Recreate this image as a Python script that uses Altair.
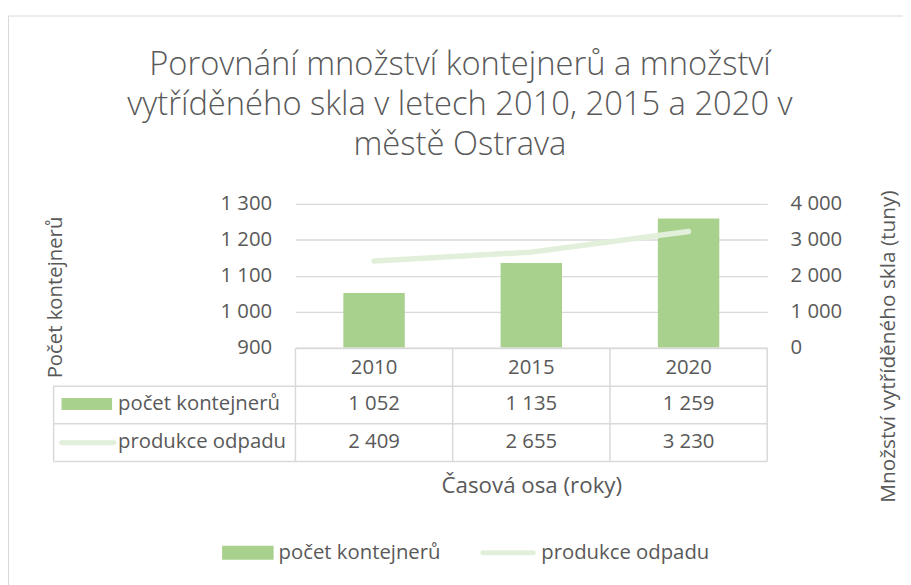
import altair as alt
import pandas as pd

# ---- data ----
roky = ["2010", "2015", "2020"]
pocet_kontejneru = [1052, 1135, 1259]
produkce_odpadu = [2409, 2655, 3230]
serie = ["počet kontejnerů", "produkce odpadu"]
osa_leva = [900, 1000, 1100, 1200, 1300]
osa_prava = [0, 1000, 2000, 3000, 4000]
nazev = [
    "Porovnání množství kontejnerů a množství",
    "vytříděného skla v letech 2010, 2015 a 2020 v",
    "městě Ostrava",
]
titulek_x = "Časová osa (roky)"
titulek_y_levy = "Počet kontejnerů"
titulek_y_pravy = "Množství vytříděného skla (tuny)"


def cz(v):
    return f"{v:,}".replace(",", " ")


df = pd.DataFrame({
    "rok": roky,
    "kont": pocet_kontejneru,
    "odpad": produkce_odpadu,
    "kont_t": [cz(v) for v in pocet_kontejneru],
    "odpad_t": [cz(v) for v in produkce_odpadu],
})
one = pd.DataFrame({"k": [0]})

FONT = "Open Sans"
GRAY = "#595959"
GRID = "#D9D9D9"
BAR = "#A9D18E"
LINEC = "#E2EFDA"
FS = 20.5

xscale = alt.Scale(paddingInner=0, paddingOuter=0)
xaxis = alt.Axis(labels=False, ticks=False, domain=False, grid=False,
                 title=titulek_x, titleFontSize=22.5, titleFontWeight="normal",
                 titleColor=GRAY, titleFont=FONT, titleY=139, titleBaseline="middle")


def X(**kw):
    return alt.X("rok:O", scale=xscale, axis=xaxis, **kw)


num_expr = "replace(format(datum.value, ','), ',', ' ')"

base = alt.Chart(df)

border = alt.Chart(one).mark_rect(filled=False, stroke=GRID, strokeWidth=1).encode(
    x=alt.value(-289.5), x2=alt.value(700), y=alt.value(-189.5), y2=alt.value(420))

bars = base.mark_bar(size=62, color=BAR).encode(
    x=X(),
    y=alt.Y("kont:Q", scale=alt.Scale(domain=[900, 1300], zero=False, nice=False),
            axis=alt.Axis(values=osa_leva, labelExpr=num_expr, ticks=False, tickSize=0,
                          domain=False, grid=True, gridColor=GRID, gridWidth=1.3,
                          labelPadding=24, title=titulek_y_levy, titleFontSize=FS,
                          titleFontWeight="normal", titleColor=GRAY, titleFont=FONT,
                          titleAngle=270, titleX=-242, titleY=94,
                          titleAlign="center", titleBaseline="middle")),
    y2=alt.datum(900),
)

line = base.mark_line(color=LINEC, strokeWidth=5.5, strokeCap="round").encode(
    x=X(),
    y=alt.Y("odpad:Q", scale=alt.Scale(domain=[0, 4000], nice=False),
            axis=alt.Axis(orient="right", values=osa_prava, labelExpr=num_expr,
                          ticks=False, tickSize=0, domain=False, grid=False,
                          labelPadding=23, title=titulek_y_pravy, titleFontSize=21,
                          titleFontWeight="normal", titleColor=GRAY, titleFont=FONT,
                          titleAngle=270, titleX=122, titleY=143.5,
                          titleAlign="center", titleBaseline="middle")),
)

# ---- data table ----
txt = dict(font=FONT, fontSize=FS, color=GRAY, baseline="middle")
hdr = base.mark_text(**txt).encode(x=X(), y=alt.value(166), text="rok:N")
row1 = base.mark_text(**txt).encode(x=X(), y=alt.value(202), text="kont_t:N")
row2 = base.mark_text(**txt).encode(x=X(), y=alt.value(240), text="odpad_t:N")

rule_kw = dict(color=GRID, strokeWidth=1.5)
vlines = base.mark_rule(**rule_kw).encode(x=X(bandPosition=0), y=alt.value(146), y2=alt.value(260))
vline_end = base.transform_filter(alt.datum.rok == roky[-1]).mark_rule(**rule_kw).encode(
    x=X(bandPosition=1), y=alt.value(146), y2=alt.value(260))


def hrule(x1, y):
    return alt.Chart(one).mark_rule(**rule_kw).encode(
        x=alt.value(x1), x2=alt.value(476), y=alt.value(y))


hr = [hrule(0, 146), hrule(-244, 184), hrule(-244, 222), hrule(-244, 260)]
vleft = alt.Chart(one).mark_rule(**rule_kw).encode(x=alt.value(-244), y=alt.value(184), y2=alt.value(260))


def label(t, x, y):
    return alt.Chart(pd.DataFrame({"t": [t]})).mark_text(align="left", **txt).encode(
        text="t:N", x=alt.value(x), y=alt.value(y))


def swatch_bar(x1, x2, y1, y2):
    return alt.Chart(one).mark_rect(color=BAR).encode(
        x=alt.value(x1), x2=alt.value(x2), y=alt.value(y1), y2=alt.value(y2))


def swatch_line(x1, x2, y):
    return alt.Chart(one).mark_rule(color=LINEC, strokeWidth=5, strokeCap="round").encode(
        x=alt.value(x1), x2=alt.value(x2), y=alt.value(y))


tab_leg = [
    swatch_bar(-236, -185, 196, 208), label(serie[0], -179, 202),
    swatch_line(-236, -183, 241), label(serie[1], -179, 240),
]

# ---- bottom legend ----
legend = [
    swatch_bar(-74, -22, 345, 359), label(serie[0], -17, 352),
    swatch_line(189, 240, 352), label(serie[1], 248, 352),
]

chart = alt.layer(
    border, bars, line, *hr, vleft, vlines, vline_end, hdr, row1, row2, *tab_leg, *legend
).resolve_scale(y="independent").properties(
    width=476, height=145,
    padding={"left": 290, "top": 195, "right": 137, "bottom": 237},
    autosize="none",
    background="white",
    title=alt.TitleParams(text=nazev, font=FONT, fontSize=33, fontWeight=300, color=GRAY,
                          lineHeight=40.5, anchor="middle", frame="group",
                          baseline="alphabetic", dx=-72, dy=178),
).configure_axis(
    labelFont=FONT, labelFontSize=FS, labelColor=GRAY,
).configure_view(stroke="transparent")

chart.save("out.html", embed_options={"renderer": "svg", "actions": False})
